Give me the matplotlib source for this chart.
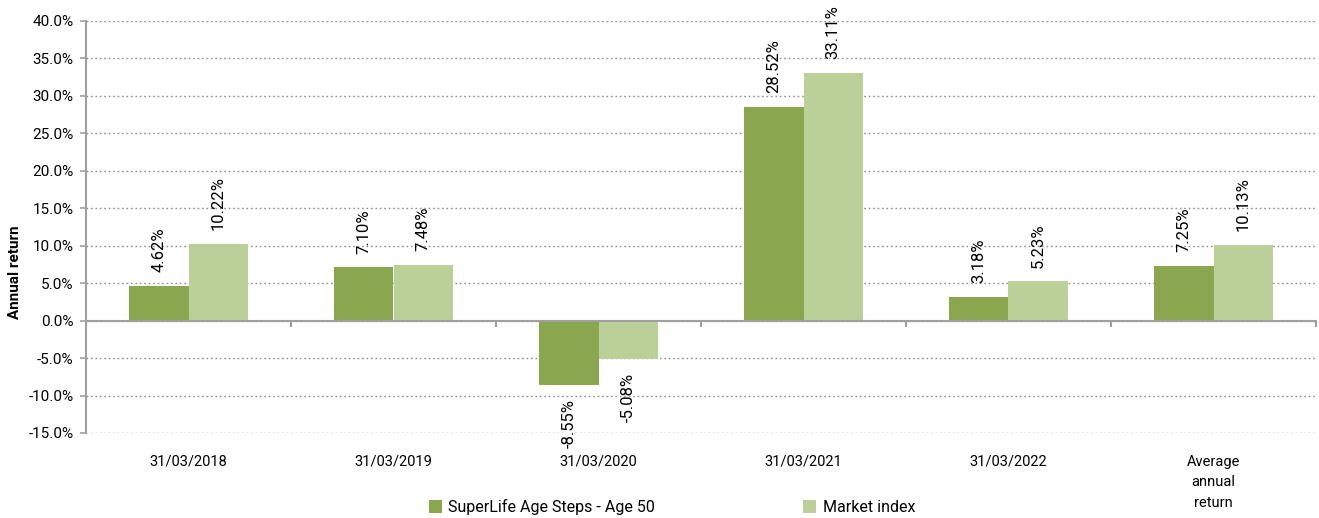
import numpy as np
import matplotlib.pyplot as plt
from matplotlib.ticker import FuncFormatter, MultipleLocator
from matplotlib.transforms import blended_transform_factory

plt.rcParams['font.family'] = ['Roboto', 'DejaVu Sans']

categories = ['31/03/2018', '31/03/2019', '31/03/2020', '31/03/2021', '31/03/2022',
              'Average\nannual\nreturn']
fund = [4.62, 7.10, -8.55, 28.52, 3.18, 7.25]
market = [10.22, 7.48, -5.08, 33.11, 5.23, 10.13]
series_names = ['SuperLife Age Steps - Age 50', 'Market index']

dark = '#8aa64f'
light = '#bbd098'
axis_grey = '#a0a0a0'

fig = plt.figure(figsize=(13.19, 5.18), dpi=100)
ax = fig.add_axes([86 / 1319, 1 - 433 / 518, (1316 - 86) / 1319, (433 - 21) / 518])

x = np.arange(len(categories))
w = 0.29
b1 = ax.bar(x - w / 2, fund, w, color=dark, label=series_names[0], zorder=3)
b2 = ax.bar(x + w / 2, market, w, color=light, label=series_names[1], zorder=3)

ax.set_xlim(-0.5, len(categories) - 0.5)
ax.set_ylim(-15, 40)
ax.yaxis.set_major_locator(MultipleLocator(5))
ax.yaxis.set_major_formatter(FuncFormatter(lambda v, p: f'{v:.1f}%'))
ax.grid(axis='y', linestyle=(0, (1.2, 2.0)), color='#909090', linewidth=1.0, zorder=0)

for s in ['top', 'right']:
    ax.spines[s].set_visible(False)
ax.spines['left'].set_color(axis_grey)
ax.spines['left'].set_linewidth(1.5)
ax.spines['bottom'].set_position(('data', 0))
ax.spines['bottom'].set_color(axis_grey)
ax.spines['bottom'].set_linewidth(1.5)
ax.spines['bottom'].set_zorder(4)

ax.tick_params(axis='y', length=4, color=axis_grey, width=1.2, labelsize=11, pad=5)
ax.set_xticks(np.arange(len(categories) + 1) - 0.5)
ax.tick_params(axis='x', length=4, color=axis_grey, width=1.5, labelbottom=False)

# category labels sit below the plot area, not at the zero line
trans = blended_transform_factory(ax.transData, ax.transAxes)
for i, c in enumerate(categories):
    ax.text(i, -0.053, c, transform=trans, ha='center', va='top', fontsize=10.5,
            linespacing=1.6)

for bars, vals in [(b1, fund), (b2, market)]:
    for rect, v in zip(bars, vals):
        cx = rect.get_x() + rect.get_width() / 2
        if v >= 0:
            ax.annotate(f'{v:.2f}%', xy=(cx, v), xytext=(0, 10), textcoords='offset points',
                        rotation=90, ha='center', va='bottom', fontsize=12,
                        annotation_clip=False)
        else:
            ax.annotate(f'{v:.2f}%', xy=(cx, v), xytext=(0, -10), textcoords='offset points',
                        rotation=90, ha='center', va='top', fontsize=12,
                        annotation_clip=False)

ax.set_ylabel('Annual return', fontsize=11, fontweight='bold')
ax.yaxis.set_label_coords(-0.052, 0.39)

fig.legend(loc='center', bbox_to_anchor=(672 / 1319, 1 - 507 / 518), ncol=2, frameon=False,
           fontsize=11.5, handlelength=0.8, handleheight=0.8, handletextpad=0.4,
           columnspacing=9.3)

fig.savefig('out.png', dpi=100)
